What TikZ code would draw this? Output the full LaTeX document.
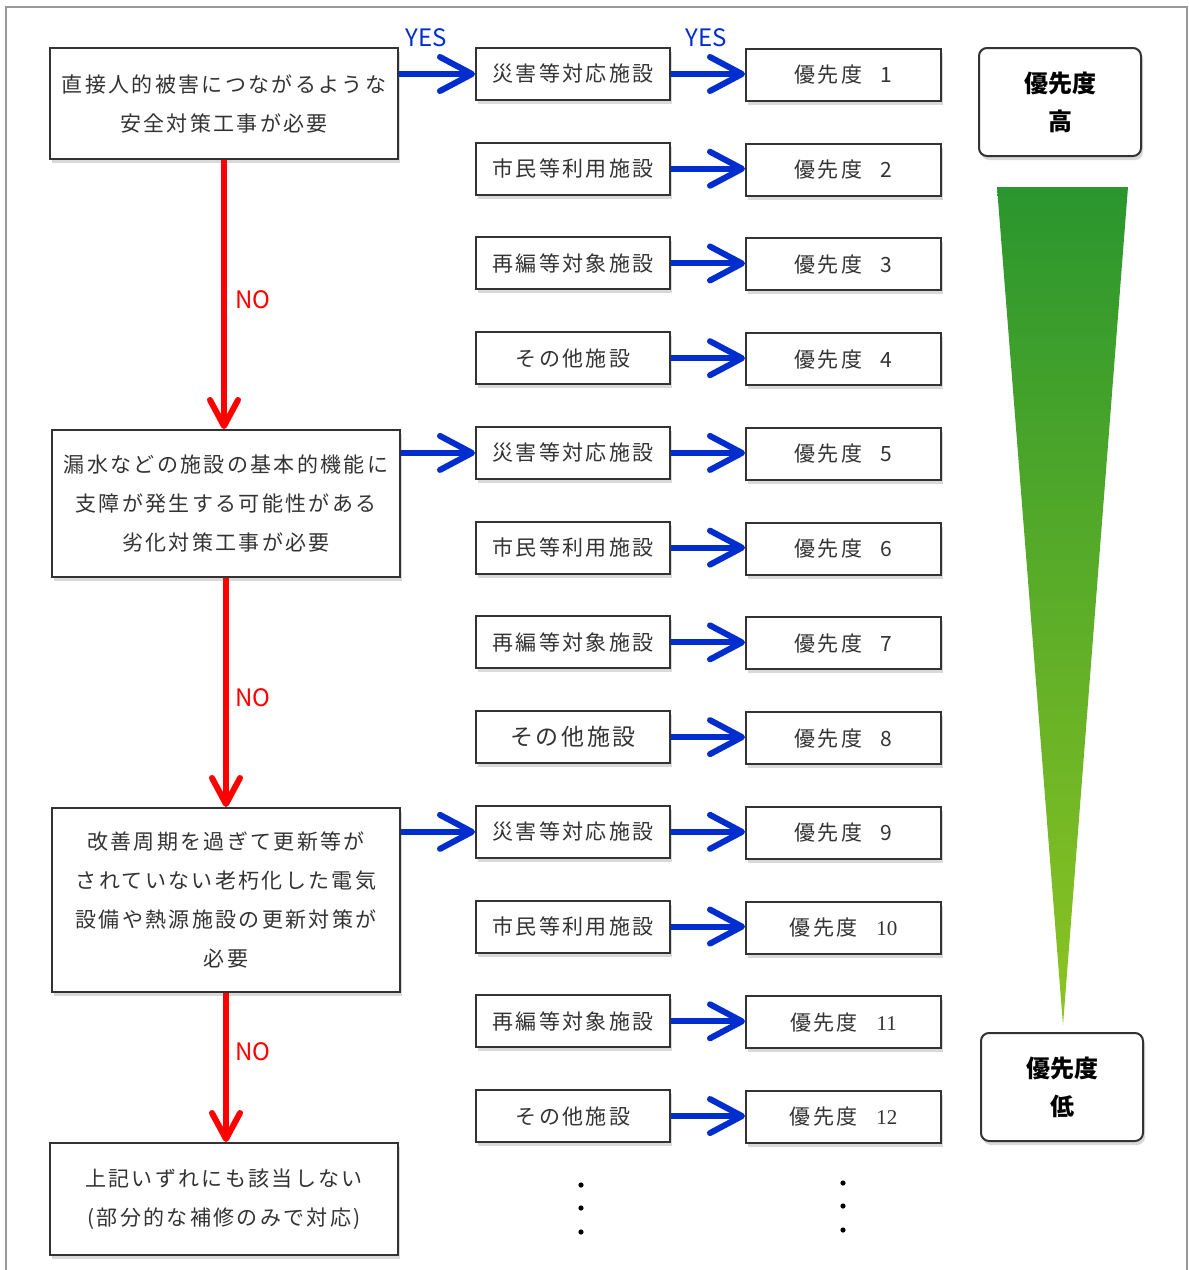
\documentclass[tikz,border=0pt]{standalone}
\usepackage{fontspec}
\setmainfont{Noto Sans CJK JP}
\newfontfamily\jpfont[LetterSpace=11]{Noto Sans CJK JP}
\newfontfamily\numfont{Liberation Serif}
\usetikzlibrary{arrows.meta, positioning, shadows, calc}

\definecolor{arrblue}{RGB}{0,45,205}
\definecolor{arrred}{RGB}{255,0,0}
\definecolor{gtop}{RGB}{42,150,46}
\definecolor{gbot}{RGB}{142,196,34}

\begin{document}
\begin{tikzpicture}[
  x=0.5pt, y=-0.5pt,
  cond/.style={draw=black!80, line width=1pt, fill=white, align=center,
    font=\jpfont\fontsize{10.5}{19.5}\selectfont, text=black!80, inner sep=0pt,
    minimum width=174pt,
    drop shadow={shadow xshift=1pt, shadow yshift=-2pt, opacity=0.3}},
  fac/.style={draw=black!80, line width=1pt, fill=white, align=center,
    font=\jpfont\fontsize{10.5}{12}\selectfont, text=black!80, inner sep=0pt,
    minimum width=97pt, minimum height=26pt,
    drop shadow={shadow xshift=1pt, shadow yshift=-2pt, opacity=0.3}},
  prio/.style={fac, minimum width=97.5pt},
  level/.style={draw=black!80, line width=1pt, fill=white, rounded corners=4pt,
    align=center, font=\fontsize{12}{19}\selectfont\bfseries, inner sep=0pt,
    minimum width=81pt, minimum height=54pt,
    drop shadow={shadow xshift=1pt, shadow yshift=-2pt, opacity=0.3}},
  yesarr/.style={draw=arrblue, line width=3pt,
    -{Straight Barb[length=16pt, width=17pt, round]}},
  noarr/.style={draw=arrred, line width=3pt,
    -{Straight Barb[length=13pt, width=14pt, round]}},
  yeslbl/.style={text=arrblue, font=\fontsize{12}{14}\selectfont, inner sep=0pt},
  nolbl/.style={text=arrred, font=\fontsize{12}{14}\selectfont, inner sep=0pt},
  frame/.style={draw=black!40, line width=1pt},
]
\useasboundingbox (0,0) rectangle (1189,1270);
\draw[frame] (6,1270) -- (6,7) -- (1187,7) -- (1187,1270);

% -- left column: conditions --
\node[cond, minimum height=55.5pt] (b1) at (224,103.5)
  {直接人的被害につながるような\\安全対策工事が必要};
\node[cond, minimum height=73.5pt] (b2) at (226,503.5)
  {漏水などの施設の基本的機能に\\支障が発生する可能性がある\\劣化対策工事が必要};
\node[cond, minimum height=92pt] (b3) at (226,900)
  {改善周期を過ぎて更新等が\\されていない老朽化した電気\\設備や熱源施設の更新対策が\\必要};
\node[cond, minimum height=56pt] (b4) at (224,1199)
  {上記いずれにも該当しない\\(部分的な補修のみで対応)};

% -- NO arrows --
\draw[noarr] (b1.south) -- (b1.south |- b2.north);
\draw[noarr] (b2.south) -- (b2.south |- b3.north);
\draw[noarr] (b3.south) -- (b3.south |- b4.north);
\node[nolbl] (no1) at (253,300) {NO};
\node[nolbl] (no2) at (253,698) {NO};
\node[nolbl] (no3) at (253,1052) {NO};

% -- facilities and priorities --
\foreach \i/\fac/\num in {
    1/災害等対応施設/1, 2/市民等利用施設/2, 3/再編等対象施設/3, 4/その他施設/4,
    5/災害等対応施設/5, 6/市民等利用施設/6, 7/再編等対象施設/7,
    8/{\fontsize{11.5}{12}\selectfont その他施設}/8,
    9/災害等対応施設/9, 10/市民等利用施設/{\numfont 10},
    11/再編等対象施設/{\numfont 11}, 12/その他施設/{\numfont 12}} {
  \node[fac] (f\i) at (573,{74+94.73*(\i-1)}) {\fac};
  \node[prio] (p\i) at (843.5,{75+94.73*(\i-1)}) {優先度\hspace{0.9em}\num};
  \draw[yesarr] (f\i.east) -- (f\i.east -| p\i.west);
}

% -- YES arrows --
\draw[yesarr] (b1.east |- f1.west) -- (f1.west);
\draw[yesarr] (b2.east |- f5.west) -- (f5.west);
\draw[yesarr] (b3.east |- f9.west) -- (f9.west);
\node[yeslbl] (yes1) at (426,38) {YES};
\node[yeslbl] (yes2) at (706,38) {YES};

% -- continuation dots --
\foreach \y in {1185,1208,1232} {
  \fill[black] (581,\y) circle[radius=1.3pt];
  \fill[black] (843,\y-2) circle[radius=1.3pt];
}

% -- priority scale --
\node[level] (hi) at (1060,102) {優先度\\高};
\node[level] (lo) at (1062,1087) {優先度\\低};
\shade[top color=gtop, bottom color=gbot]
  (997,187) -- (1128,187) -- (1063,1025) -- cycle;
\end{tikzpicture}
\end{document}
